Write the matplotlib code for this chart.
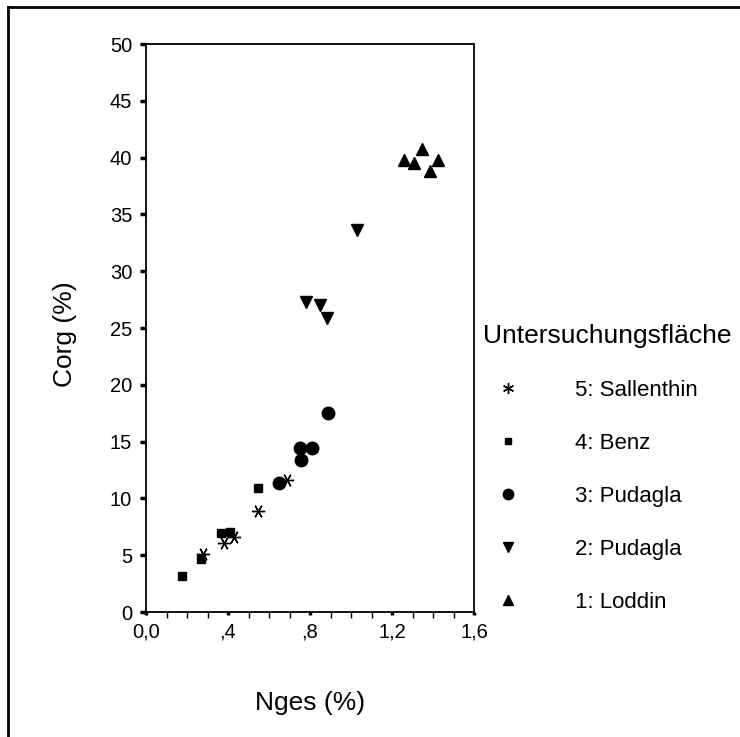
import matplotlib
matplotlib.use('Agg')
from matplotlib import pyplot as plt
from matplotlib.lines import Line2D
from matplotlib.ticker import FixedLocator, MultipleLocator

plt.rcParams['font.family'] = ['Liberation Sans', 'DejaVu Sans']

# Messwerte je Untersuchungsflaeche (Nges %, Corg %)
sallenthin_x = [0.277, 0.382, 0.43, 0.545, 0.686]
sallenthin_y = [5.1, 6.05, 6.57, 8.9, 11.6]
benz_x = [0.177, 0.27, 0.364, 0.41, 0.546]
benz_y = [3.2, 4.7, 6.95, 7.07, 10.95]
pudagla3_x = [0.649, 0.751, 0.811, 0.756, 0.889]
pudagla3_y = [11.35, 14.4, 14.4, 13.4, 17.55]
pudagla2_x = [1.031, 0.782, 0.85, 0.883]
pudagla2_y = [33.6, 27.3, 27.05, 25.85]
loddin_x = [1.345, 1.259, 1.306, 1.423, 1.384]
loddin_y = [40.8, 39.8, 39.55, 39.8, 38.85]

legend_names = ['5: Sallenthin', '4: Benz', '3: Pudagla', '2: Pudagla', '1: Loddin']
xticks = [0.0, 0.4, 0.8, 1.2, 1.6]
xticklabels = ['0,0', ',4', ',8', '1,2', '1,6']
yticks = [0, 5, 10, 15, 20, 25, 30, 35, 40, 45, 50]

fig = plt.figure(figsize=(7.4, 7.37), dpi=100)
ax = fig.add_axes([146/740, 1 - 612/737, 328/740, 568/737])

ax.plot(sallenthin_x, sallenthin_y, ls='none', marker=(6, 2, 90), ms=9.5, mew=1, color='k')
ax.plot(benz_x, benz_y, ls='none', marker='s', ms=6, color='k')
ax.plot(pudagla3_x, pudagla3_y, ls='none', marker='o', ms=9, color='k')
ax.plot(pudagla2_x, pudagla2_y, ls='none', marker='v', ms=8, color='k')
ax.plot(loddin_x, loddin_y, ls='none', marker='^', ms=8, color='k')

ax.set_xlim(0, 1.6)
ax.set_ylim(0, 50)
ax.xaxis.set_major_locator(FixedLocator(xticks))
ax.set_xticklabels(xticklabels)
ax.xaxis.set_minor_locator(MultipleLocator(0.1))
ax.set_yticks(yticks)
ax.tick_params(axis='x', which='major', direction='out', length=2.5, width=2.5, labelsize=14.5, pad=5)
ax.tick_params(axis='x', which='minor', direction='out', length=4, width=1)
ax.tick_params(axis='y', direction='out', length=4, width=2.5, labelsize=14.5, pad=6)
for s in ax.spines.values():
    s.set_linewidth(1.3)

fig.text(310/740, 1 - 703/737, 'Nges (%)', fontsize=19, ha='center', va='center')
fig.text(65/740, 1 - 334/737, 'Corg (%)', fontsize=19, ha='center', va='center', rotation=90)

# Legende
handles = [
    Line2D([], [], ls='none', marker=(6, 2, 0), ms=8, mew=1, color='k'),
    Line2D([], [], ls='none', marker='s', ms=5, color='k'),
    Line2D([], [], ls='none', marker='o', ms=7.5, color='k'),
    Line2D([], [], ls='none', marker='v', ms=7, color='k'),
    Line2D([], [], ls='none', marker='^', ms=7, color='k'),
]
leg = fig.legend(handles, legend_names, title='Untersuchungsfläche', loc='upper left',
                 bbox_to_anchor=(483/740, 1 - 324/737), frameon=False, fontsize=16,
                 title_fontsize=19, handlelength=2.25, handletextpad=1.9,
                 labelspacing=1.44, borderpad=0, borderaxespad=0)
leg._legend_box.align = 'left'

# Rahmen um die Grafik
fig.add_artist(Line2D([8/740, 8/740], [0, 1 - 7/737], color='k', lw=2))
fig.add_artist(Line2D([8/740, 1], [1 - 7/737, 1 - 7/737], color='k', lw=2))

fig.savefig('out.png', dpi=100)
